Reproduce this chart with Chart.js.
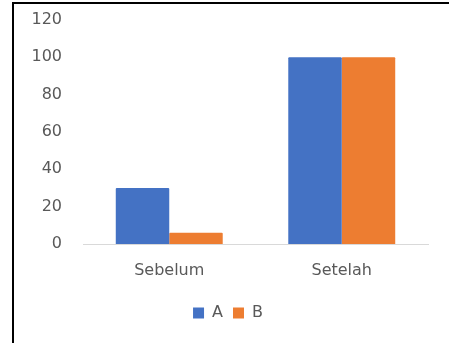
<!DOCTYPE html>
<html>
<head>
<meta charset="utf-8">
<script src="https://cdn.jsdelivr.net/npm/chart.js@4/dist/chart.umd.min.js"></script>
<style>
  body { margin: 0; background: #fff; }
  #box {
    position: absolute; left: 12px; top: 2px;
    width: 437px; height: 339px;
    border-left: 2px solid #000;
    border-top: 2px solid #000;
    border-bottom: 1px solid #d9d9d9;
  }
  #wrap { position: relative; width: 435px; height: 337px; }
</style>
</head>
<body>
<div id="box"><div id="wrap"><canvas id="canvas"></canvas></div></div>
<script>
// values
let labels = ['Sebelum', 'Setelah'];
let seriesA = [30, 100];
let seriesB = [6, 100];
let yTicks = [0, 20, 40, 60, 80, 100, 120];

let textColor = '#595959';
let font = { family: 'DejaVu Sans', size: 16 };

let options = {
  type: 'bar',
  data: {
    labels: labels,
    datasets: [
      { label: 'A', data: seriesA, backgroundColor: '#4472C4', borderRadius: 1 },
      { label: 'B', data: seriesB, backgroundColor: '#ED7D31', borderRadius: 1 }
    ]
  },
  options: {
    responsive: true,
    maintainAspectRatio: false,
    animation: false,
    layout: { padding: { left: 14, right: 21, top: 16, bottom: 10 } },
    datasets: { bar: { categoryPercentage: 0.62, barPercentage: 1.0 } },
    scales: {
      x: {
        grid: { display: false },
        border: { color: '#d9d9d9', width: 1 },
        ticks: { color: textColor, font: font, padding: 9 },
        // fixed sizes so the plot sits where the original one does
        afterFit: (s) => { s.height = 51; s.paddingLeft = 0; s.paddingRight = 0; }
      },
      y: {
        min: yTicks[0],
        max: yTicks[yTicks.length - 1],
        grid: { display: false, drawTicks: false },
        border: { display: false },
        ticks: { stepSize: 20, color: textColor, font: font, padding: 21 },
        afterFit: (s) => { s.width = 55; s.paddingTop = 0; s.paddingBottom = 0; }
      }
    },
    plugins: {
      tooltip: { enabled: false },
      legend: {
        position: 'bottom',
        labels: { color: textColor, font: font, boxWidth: 11, boxHeight: 11, padding: 10 }
      }
    }
  }
};

let chart = new Chart(document.getElementById('canvas'), options);
</script>
</body>
</html>
